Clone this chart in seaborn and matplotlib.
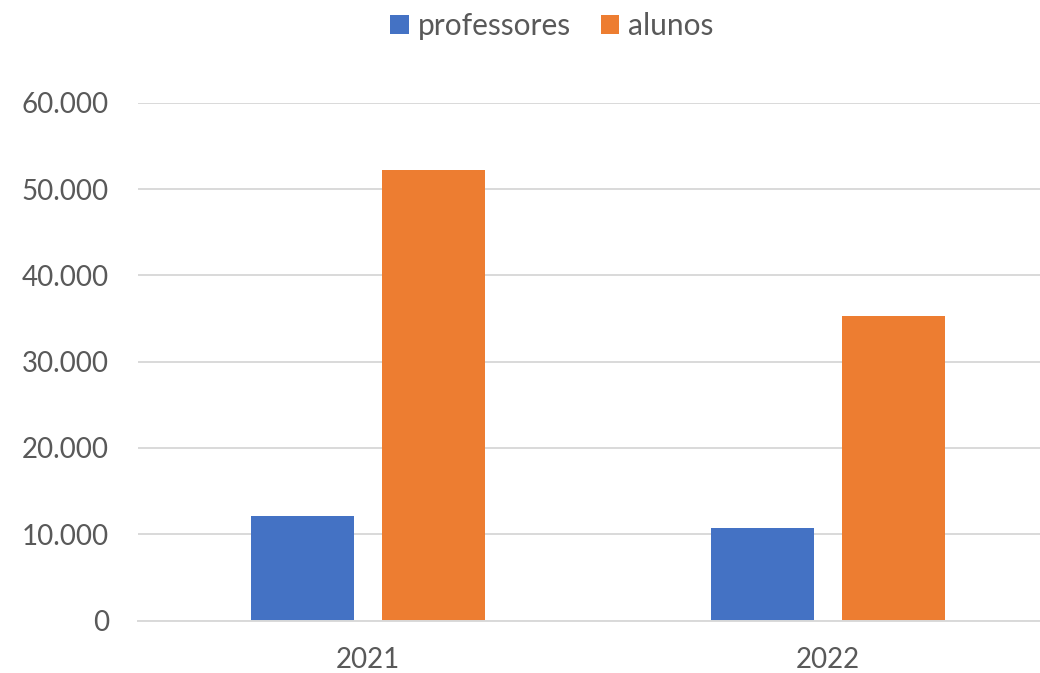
import matplotlib
matplotlib.use("Agg")
import matplotlib.pyplot as plt
from matplotlib.ticker import FuncFormatter, MultipleLocator
import seaborn as sns
import pandas as pd

# Data
anos = ["2021", "2022"]
series = ["professores", "alunos"]
professores = [12100, 10700]
alunos = [52200, 35300]
cores = ["#4472C4", "#ED7D31"]

df = pd.DataFrame({
    "ano": anos * 2,
    "serie": [series[0]] * len(anos) + [series[1]] * len(anos),
    "valor": professores + alunos,
})

sns.set_theme(style="white")
plt.rcParams["font.family"] = ["Lato", "DejaVu Sans"]
texto = "#595959"
grade = "#D9D9D9"

fig = plt.figure(figsize=(10.4, 6.73), dpi=100)
ax = fig.add_axes([138 / 1040, (673 - 620.5) / 673, 920 / 1040, (620.5 - 102.7) / 673])

sns.barplot(data=df, x="ano", y="valor", hue="serie", hue_order=series,
            palette=cores, width=0.57, gap=0.21, saturation=1,
            ax=ax, linewidth=0)

ax.set_xlim(-0.5, 1.5)
ax.set_ylim(0, 60000)
ax.yaxis.set_major_locator(MultipleLocator(10000))
ax.yaxis.set_major_formatter(FuncFormatter(lambda v, p: f"{int(v):,}".replace(",", ".")))
ax.grid(axis="y", color=grade, linewidth=1.4)
ax.set_axisbelow(True)
for lado in ["left", "right", "top"]:
    ax.spines[lado].set_visible(False)
ax.spines["bottom"].set_color(grade)
ax.spines["bottom"].set_linewidth(1.4)
ax.set_xlabel("")
ax.set_ylabel("")
ax.tick_params(axis="both", length=0, labelsize=20, labelcolor=texto)
ax.tick_params(axis="y", pad=21)
ax.tick_params(axis="x", pad=19)

handles, labels = ax.get_legend_handles_labels()
if ax.get_legend() is not None:
    ax.get_legend().remove()
fig.legend(handles, labels, loc="center", bbox_to_anchor=(552 / 1040, 1 - 26 / 673),
           ncol=2, frameon=False, fontsize=21.5, labelcolor=texto,
           handlelength=0.62, handleheight=0.62, handletextpad=0.3,
           columnspacing=1.0)

fig.savefig("out.png", dpi=100)
